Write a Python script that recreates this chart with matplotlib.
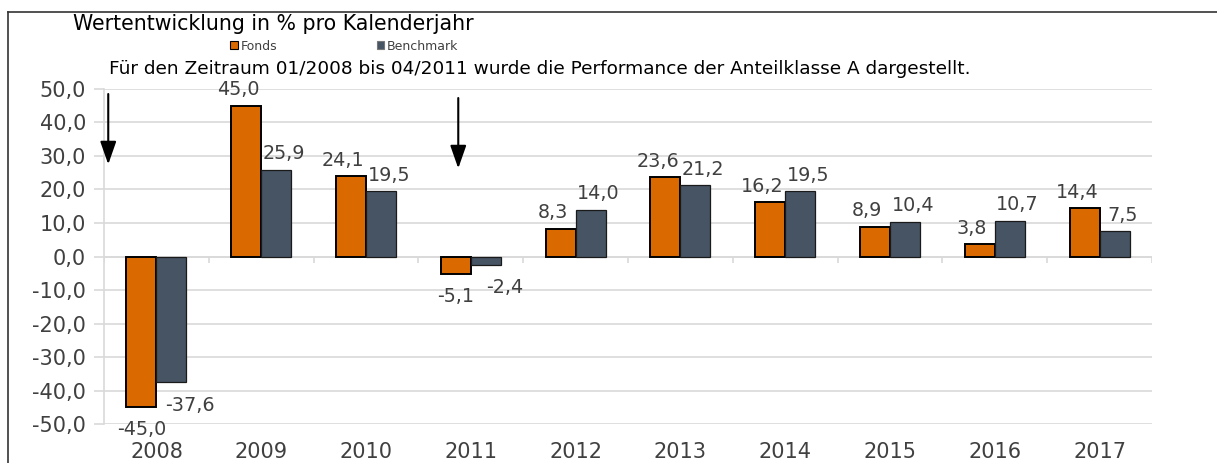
import numpy as np
import matplotlib.pyplot as plt
from matplotlib.patches import Patch
from matplotlib.lines import Line2D

# ----------------------------
# Data
# ----------------------------
years = ["2008", "2009", "2010", "2011", "2012", "2013", "2014", "2015", "2016", "2017"]
fonds = [-45.0, 45.0, 24.1, -5.1, 8.3, 23.6, 16.2, 8.9, 3.8, 14.4]
benchmark = [-37.6, 25.9, 19.5, -2.4, 14.0, 21.2, 19.5, 10.4, 10.7, 7.5]
y_ticks = [-50, -40, -30, -20, -10, 0, 10, 20, 30, 40, 50]

title = "Wertentwicklung in % pro Kalenderjahr"
note = "Für den Zeitraum 01/2008 bis 04/2011 wurde die Performance der Anteilklasse A dargestellt."

# arrows marking the share class switch (x in category units, y in %)
arrows = [(-0.46, 48.5, 27.5), (2.88, 47.3, 26.3)]

c_fonds = "#DA6900"
c_bench = "#465464"
c_text = "#404040"
c_grid = "#D9D9D9"

def fmt(v):
    return f"{v:.1f}".replace(".", ",")

# ----------------------------
# Figure
# ----------------------------
fig = plt.figure(figsize=(12.17, 4.63), dpi=100)
ax = fig.add_axes([0.0855, 0.0842, 0.9466 - 0.0855, 0.8078 - 0.0842])

x = np.arange(len(years))
w = 0.286
ax.bar(x - w / 2, fonds, w, color=c_fonds, edgecolor="black", linewidth=1.4, zorder=3)
ax.bar(x + w / 2, benchmark, w, color=c_bench, edgecolor="#1a1a1a", linewidth=0.9, zorder=3)

ax.set_xlim(-0.5, len(years) - 0.5)
ax.set_ylim(-50, 50)
ax.set_yticks(y_ticks)
ax.set_yticklabels([fmt(v) for v in y_ticks])
ax.set_xticks(x)
ax.set_xticklabels(years)

ax.grid(axis="y", color=c_grid, linewidth=1.2, zorder=0)
ax.tick_params(axis="y", length=7, color=c_grid, width=1.2, labelsize=15,
               labelcolor=c_text, pad=6)
ax.tick_params(axis="x", length=0, labelsize=15, labelcolor=c_text, pad=13)
for s in ["top", "right", "bottom"]:
    ax.spines[s].set_visible(False)
ax.spines["left"].set_color(c_grid)
ax.spines["left"].set_linewidth(1.2)

# zero line with category boundary ticks
ax.axhline(0, color=c_grid, linewidth=1.2, zorder=2)
bounds = np.arange(len(years) + 1) - 0.5
ax.vlines(bounds, -1.9, 0, color=c_grid, linewidth=1.2, zorder=2)

# data labels
for i in range(len(years)):
    for v, side in [(fonds[i], -1), (benchmark[i], 1)]:
        bx = i + side * w / 2
        if v >= 0:
            ax.annotate(fmt(v), (bx + side * 0.075, v), xytext=(0, 4.5), textcoords="offset points",
                        ha="center", va="bottom", fontsize=13.8, color=c_text, zorder=4)
        else:
            dx = 0.18 if side > 0 else 0.0
            ax.annotate(fmt(v), (bx + dx, v), xytext=(0, -9.5), textcoords="offset points",
                        ha="center", va="top", fontsize=13.8, color=c_text, zorder=4)

# arrows
for ax_x, y0, y1 in arrows:
    ax.annotate("", xy=(ax_x, y1), xytext=(ax_x, y0),
                arrowprops=dict(arrowstyle="-|>,head_width=0.35,head_length=1.0",
                                color="black", lw=1.5, mutation_scale=14,
                                shrinkA=0, shrinkB=0),
                annotation_clip=False, zorder=5)

# texts
fig.text(73 / 1217, 1 - 24 / 463, title, fontsize=14.8, color="black", va="center", ha="left")
fig.text(109 / 1217, 1 - 69 / 463, note, fontsize=13.3, color="black", va="center", ha="left")

handles = [Patch(facecolor=c_fonds, edgecolor="black", linewidth=0.8),
           Patch(facecolor=c_bench, edgecolor="#777777", linewidth=0.8)]
fig.legend(handles, ["Fonds", "Benchmark"], loc="center left",
           bbox_to_anchor=(224 / 1217, 1 - 46 / 463), ncol=2, frameon=False,
           fontsize=9, handlelength=0.6, handleheight=0.6, handletextpad=0.2,
           columnspacing=8.0, borderpad=0, labelcolor=c_text)

# outer frame
fig.add_artist(Line2D([8 / 1217, 8 / 1217], [0, 1 - 12 / 463], color="#333333", lw=1.2,
                      transform=fig.transFigure))
fig.add_artist(Line2D([8 / 1217, 1], [1 - 12 / 463, 1 - 12 / 463], color="#333333", lw=1.2,
                      transform=fig.transFigure))

fig.savefig("out.png", dpi=100)
